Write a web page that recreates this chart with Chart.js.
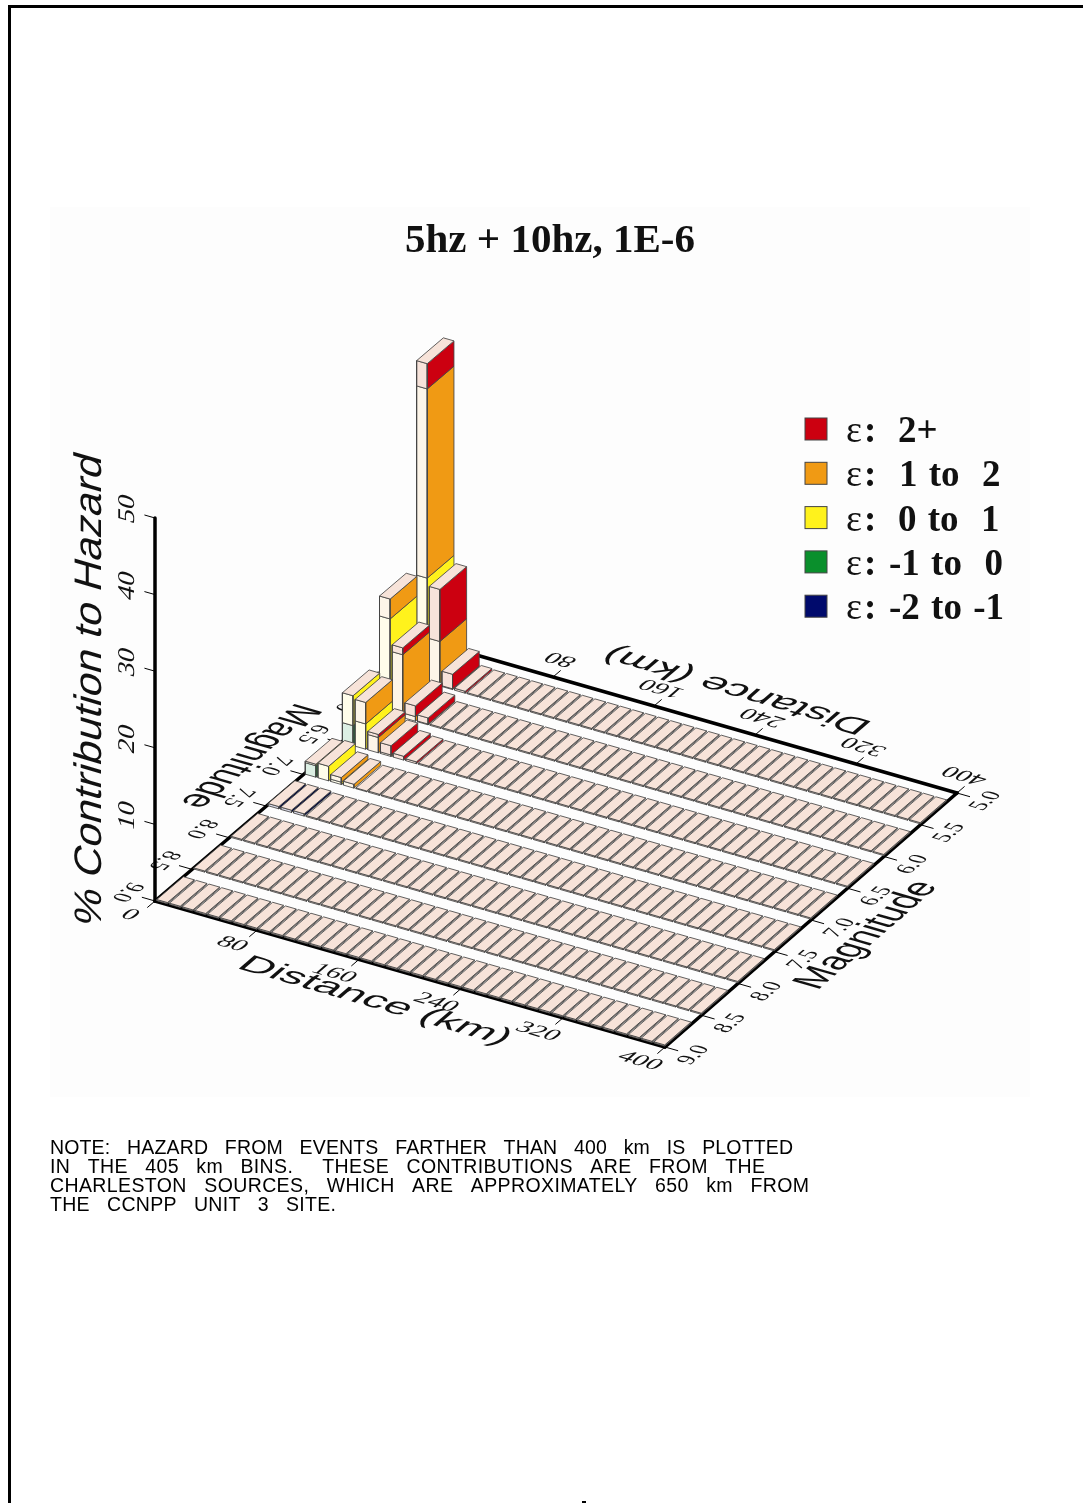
<!DOCTYPE html>
<html>
<head>
<meta charset="utf-8">
<title>5hz + 10hz, 1E-6</title>
<script src="https://cdn.jsdelivr.net/npm/chart.js@4"></script>
<style>
  html, body { margin: 0; padding: 0; background: #fff; }
  #page { position: relative; width: 1083px; height: 1503px; overflow: hidden; }
  #moldura { position: absolute; left: 8px; top: 5px; width: 1075px; height: 1498px; border-left: 3px solid #000; border-top: 3px solid #000; box-sizing: border-box; }
  #painel { position: absolute; left: 50px; top: 207px; width: 980px; height: 890px; background: #fdfdfd; }
  #marca { position: absolute; left: 582px; top: 1501px; width: 4px; height: 2px; background: #000; }
  canvas { position: absolute; left: 0; top: 0; }
</style>
</head>
<body>
<div id="page">
  <div id="moldura"></div>
  <div id="painel"></div>
  <div id="marca"></div>
  <canvas id="grafico" width="1083" height="1503"></canvas>
</div>
<script>
const distanceBins  = [0,10,20,30,40,50,60,70,80,90,100,110,120,130,140,150,160,170,180,190,200,210,220,230,240,250,260,270,280,290,300,310,320,330,340,350,360,370,380,390];
const magnitudeBins = [5.0,5.5,6.0,6.5,7.0,7.5,8.0,8.5];

const distanceTicks  = [0,80,160,240,320,400];
const magnitudeTicks = [5.0,5.5,6.0,6.5,7.0,7.5,8.0,8.5,9.0];
const percentTicks   = [10,20,30,40,50];

// % per bin: one row per magnitude bin, one value per distance bin (missing = 0)
const eps2Plus = [
  [3.3, 6.8, 1.9, 0.25],
  [0, 0.9, 1.4, 0.8],
  [0, 0, 0.4, 1.2, 0.5, 0.25]
];
const eps1To2 = [
  [24.7, 5.8, 0.1],
  [2.6, 7.5, 0.6, 0.1],
  [0, 2.8, 2.0, 0.2],
  [0, 0, 0.6, 0.5, 0.1]
];
const eps0To1 = [
  [13.6],
  [8.2, 0.7],
  [3.9, 3.3],
  [0.2, 1.9, 0.3]
];
const epsM1To0 = [
  [],
  [4.2],
  [2.6],
  [1.5]
];
const epsM2ToM1 = [
  [], [], [], [],
  [0.3, 0.3, 0.3]
];

const legendLabels = ['2+', '1 to  2', '0 to  1', '-1 to  0', '-2 to -1'];
const noteLines = [
  'NOTE:   HAZARD   FROM   EVENTS   FARTHER   THAN   400   km   IS   PLOTTED',
  'IN   THE   405   km   BINS.     THESE   CONTRIBUTIONS   ARE   FROM   THE',
  'CHARLESTON   SOURCES,   WHICH   ARE   APPROXIMATELY   650   km   FROM',
  'THE   CCNPP   UNIT   3   SITE.'
];
const noteWidths = [743, 715, 759, 286];

// bottom layer first
const camadas = [
  { dados: epsM2ToM1, cor: '#00063c', lateral: '#d8d8e6' },
  { dados: epsM1To0,  cor: '#0a8f2c', lateral: '#dcefe4' },
  { dados: eps0To1,   cor: '#fff21c', lateral: '#fffdea' },
  { dados: eps1To2,   cor: '#f09a14', lateral: '#fdf5e8' },
  { dados: eps2Plus,  cor: '#cc0010', lateral: '#f7e3da' }
];
const corLegenda = ['#cc0010', '#f09a14', '#fff21c', '#0a8f2c', '#000a6c'];
const corTopo = '#f7e3d9';
const alturaBase = 0.15;

// floor corners and vertical scale of the projection
const canto00 = [155, 901], canto10 = [665, 1047], canto01 = [452, 648], canto11 = [957, 793];
const pxPorPct = 7.66;

function projetar(d, m, p) {
  const u = d / 400, v = (9 - m) / 4;
  const bi = k => canto00[k] * (1 - u) * (1 - v) + canto10[k] * u * (1 - v) + canto01[k] * (1 - u) * v + canto11[k] * u * v;
  return { x: bi(0), y: bi(1) - (p || 0) * pxPorPct };
}

function poligono(pontos, fundo, borda) {
  return {
    data: pontos.concat([pontos[0]]),
    showLine: true, fill: 'shape', tension: 0,
    backgroundColor: fundo, borderColor: borda || '#444', borderWidth: 0.85,
    pointRadius: 0
  };
}

function linha(a, b, largura) {
  return { data: [a, b], showLine: true, fill: false, borderColor: '#000', borderWidth: largura, pointRadius: 0, borderCapStyle: 'round' };
}

const conjuntos = [];

// axes
conjuntos.push(linha(projetar(0, 9, 0), projetar(0, 9, 50), 3.5));
conjuntos.push(linha(projetar(0, 9, 0), projetar(400, 9, 0), 3.5));
conjuntos.push(linha(projetar(400, 9, 0), projetar(400, 5, 0), 3.5));
conjuntos.push(linha(projetar(400, 5, 0), projetar(0, 5, 0), 3.5));
conjuntos.push(linha(projetar(0, 5, 0), projetar(0, 9, 0), 3.5));
distanceTicks.forEach(d => {
  conjuntos.push(linha(projetar(d, 9, 0), projetar(d, 9.1, 0), 1));
  conjuntos.push(linha(projetar(d, 5, 0), projetar(d, 4.9, 0), 1));
});
magnitudeTicks.forEach(m => {
  conjuntos.push(linha(projetar(400, m, 0), projetar(410, m, 0), 1));
  conjuntos.push(linha(projetar(0, m, 0), projetar(-10, m, 0), 1));
});
percentTicks.forEach(p => conjuntos.push(linha(projetar(0, 9, p), projetar(-8, 9, p), 1)));

// boxes, back to front
magnitudeBins.forEach((mBin, i) => {
  distanceBins.forEach((dBin, j) => {
    const dA = dBin + 0.8, dB = dBin + 9.2, mFrente = mBin + 0.49, mFundo = mBin + 0.13;
    let z = 0;
    const faces = [];
    camadas.forEach(c => {
      const val = (c.dados[i] || [])[j] || 0;
      if (val > 0) {
        faces.push(poligono([projetar(dA, mFrente, z), projetar(dB, mFrente, z), projetar(dB, mFrente, z + val), projetar(dA, mFrente, z + val)], c.lateral));
        faces.push(poligono([projetar(dB, mFrente, z), projetar(dB, mFundo, z), projetar(dB, mFundo, z + val), projetar(dB, mFrente, z + val)], c.cor));
        z += val;
      }
    });
    if (z === 0) {
      z = alturaBase;
      faces.push(poligono([projetar(dA, mFrente, 0), projetar(dB, mFrente, 0), projetar(dB, mFrente, z), projetar(dA, mFrente, z)], corTopo));
      faces.push(poligono([projetar(dB, mFrente, 0), projetar(dB, mFundo, 0), projetar(dB, mFundo, z), projetar(dB, mFrente, z)], '#cbb9b0'));
    }
    faces.push(poligono([projetar(dA, mFrente, z), projetar(dB, mFrente, z), projetar(dB, mFundo, z), projetar(dA, mFundo, z)], corTopo));
    faces.forEach(f => conjuntos.push(f));
  });
});

// Chart.js paints the first dataset last, so reverse to keep painter's order
conjuntos.reverse();

function unit(x, y, esc) {
  const n = Math.hypot(x, y);
  return [x / n * esc, y / n * esc];
}

// text lying in a plane: dir = baseline direction, cima = letter-up direction
function textoPlano(ctx, txt, x, y, dir, cima, fonte, comprimento) {
  ctx.save();
  ctx.font = fonte;
  let d = dir;
  if (comprimento) d = unit(dir[0], dir[1], comprimento / ctx.measureText(txt).width);
  ctx.transform(d[0], d[1], -cima[0], -cima[1], x, y);
  ctx.textAlign = 'center';
  ctx.textBaseline = 'middle';
  ctx.fillStyle = '#111';
  ctx.fillText(txt, 0, 0);
  ctx.restore();
}

const eixoD = [505, 146], eixoM = [293, -253];
const negD = [-505, -146], negM = [-293, 253];
const fonteTick = '20px "Liberation Serif"';
const fonteEixo = '30px "Liberation Sans"';

const textosEixos = {
  id: 'textosEixos',
  beforeDatasetsDraw(chart) {
    const { ctx } = chart;
    const sx = chart.scales.x, sy = chart.scales.y;
    const px = p => [sx.getPixelForValue(p.x), sy.getPixelForValue(p.y)];

    distanceTicks.forEach(d => {
      const a = px(projetar(d, 9, 0));
      textoPlano(ctx, String(d), a[0] - 25, a[1] + 14, unit(eixoD[0], eixoD[1], 1.4), unit(eixoM[0], eixoM[1], 1.05), fonteTick);
      if (d > 0) {
        const b = px(projetar(d, 5, 0));
        textoPlano(ctx, String(d), b[0] + 8, b[1] - 18, unit(negD[0], negD[1], 1.4), unit(negM[0], negM[1], 1.05), fonteTick);
      }
    });
    magnitudeTicks.forEach(m => {
      const a = px(projetar(400, m, 0));
      textoPlano(ctx, m.toFixed(1), a[0] + 29, a[1] + 8, unit(eixoM[0], eixoM[1], 1.05), unit(negD[0], negD[1], 1.2), fonteTick);
      const b = px(projetar(0, m, 0));
      textoPlano(ctx, m.toFixed(1), b[0] - 28, b[1] - 9, unit(negM[0], negM[1], 1.05), unit(eixoD[0], eixoD[1], 1.2), fonteTick);
    });
    percentTicks.forEach(p => {
      const a = px(projetar(0, 9, p));
      textoPlano(ctx, String(p), a[0] - 27, a[1] - 9, [0, -1.4], [-1.2, -0.35], fonteTick);
    });

    textoPlano(ctx, 'Distance (km)', 375, 1001, eixoD, unit(eixoM[0], eixoM[1], 1), fonteEixo, 278);
    textoPlano(ctx, 'Distance (km)', 737, 690, negD, unit(negM[0], negM[1], 1), fonteEixo, 272);
    textoPlano(ctx, 'Magnitude', 867, 935, eixoM, unit(negD[0], negD[1], 1.4), fonteEixo, 160);
    textoPlano(ctx, 'Magnitude', 249, 756, negM, unit(eixoD[0], eixoD[1], 1.4), fonteEixo, 155);
    textoPlano(ctx, '% Contribution to Hazard', 90, 690, [0, -1], [-0.96, -0.28], '40px "Liberation Sans"', 472);
  },
  afterDatasetsDraw(chart) {
    const { ctx } = chart;
    ctx.save();
    ctx.fillStyle = '#111';
    ctx.textAlign = 'center';
    ctx.textBaseline = 'alphabetic';
    ctx.font = 'bold 41px "Liberation Serif"';
    ctx.fillText('5hz + 10hz, 1E-6', 550, 252);

    const xValor = [898, 899, 898, 889, 889];
    legendLabels.forEach((rotulo, i) => {
      const base = 442 + i * 44.3;
      ctx.fillStyle = corLegenda[i];
      ctx.strokeStyle = '#444';
      ctx.lineWidth = 1;
      ctx.fillRect(805, base - 24, 22, 22);
      ctx.strokeRect(805, base - 24, 22, 22);
      ctx.fillStyle = '#111';
      ctx.textAlign = 'left';
      ctx.font = '38px "Liberation Serif"';
      ctx.fillText('ε', 846, base);
      ctx.font = 'bold 37px "Liberation Serif"';
      ctx.fillText(':', 864, base);
      ctx.wordSpacing = '2px';
      ctx.fillText(rotulo, xValor[i], base);
      ctx.wordSpacing = '0px';
    });

    // note below the plot
    ctx.fillStyle = '#000';
    ctx.font = '19.5px "Liberation Sans"';
    noteLines.forEach((t, i) => {
      ctx.letterSpacing = '0px';
      const w = ctx.measureText(t).width;
      ctx.letterSpacing = ((noteWidths[i] - w) / (t.length - 1)) + 'px';
      ctx.fillText(t, 50, 1154 + i * 19);
    });
    ctx.letterSpacing = '0px';
    ctx.restore();
  }
};

new Chart(document.getElementById('grafico'), {
  type: 'scatter',
  data: { datasets: conjuntos },
  options: {
    responsive: false,
    animation: false,
    events: [],
    layout: { padding: 0 },
    plugins: { legend: { display: false }, tooltip: { enabled: false } },
    scales: {
      x: { type: 'linear', min: 0, max: 1083, display: false },
      y: { type: 'linear', min: 0, max: 1503, reverse: true, display: false }
    }
  },
  plugins: [textosEixos]
});
</script>
</body>
</html>
